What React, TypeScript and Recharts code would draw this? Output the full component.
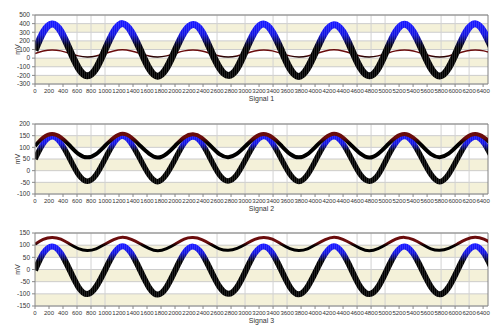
import React from "react";
import {
  LineChart,
  Line,
  XAxis,
  YAxis,
  CartesianGrid,
  ReferenceLine,
} from "recharts";

// sample positions (roughly every 1/8 of a cycle)
const X_VALUES = [
  0, 117, 243, 369, 495, 620, 746, 872, 998, 1124, 1250, 1376, 1502, 1628,
  1753, 1879, 2005, 2131, 2257, 2383, 2509, 2635, 2760, 2886, 3012, 3138, 3264,
  3390, 3516, 3641, 3767, 3893, 4019, 4145, 4271, 4397, 4523, 4648, 4774, 4900,
  5026, 5152, 5278, 5404, 5530, 5655, 5781, 5907, 6033, 6159, 6285, 6411, 6537,
];

const SIG1_MAIN = [
  90, 300, 395, 310, 95, -115, -205, -120, 92, 305, 400, 305, 98, -118, -210,
  -115, 95, 302, 390, 308, 93, -112, -200, -118, 96, 306, 395, 303, 95, -120,
  -212, -116, 94, 300, 388, 306, 97, -114, -205, -119, 95, 304, 392, 302, 94,
  -117, -208, -115, 96, 307, 398, 305, 95,
];
const SIG1_REF = [
  54, 82, 95, 84, 55, 26, 14, 24, 53, 83, 96, 82, 54, 25, 13, 26, 55, 84, 94,
  83, 53, 24, 12, 25, 54, 82, 95, 84, 55, 26, 14, 24, 53, 83, 96, 82, 54, 25,
  13, 26, 55, 84, 94, 83, 53, 24, 12, 25, 54, 82, 95, 84, 55,
];
const SIG2_MAIN = [
  50, 116, 145, 118, 52, -16, -45, -18, 49, 117, 147, 116, 50, -17, -47, -15,
  51, 118, 144, 117, 49, -18, -44, -16, 50, 116, 146, 118, 51, -15, -46, -17,
  50, 117, 145, 116, 49, -17, -45, -18, 52, 118, 146, 117, 50, -16, -47, -16,
  51, 116, 144, 118, 50,
];
const SIG2_UPPER = [
  106, 142, 157, 143, 108, 72, 57, 71, 106, 141, 158, 142, 107, 73, 56, 72,
  108, 143, 156, 141, 106, 71, 58, 73, 107, 142, 157, 143, 108, 72, 57, 71,
  106, 141, 158, 142, 107, 73, 56, 72, 108, 143, 157, 141, 106, 71, 58, 73,
  107, 142, 157, 143, 108,
];
const SIG3_MAIN = [
  -3, 66, 95, 67, -2, -72, -101, -71, -4, 65, 96, 66, -3, -73, -103, -72, -2,
  67, 94, 65, -3, -71, -100, -73, -4, 66, 95, 67, -2, -72, -102, -71, -3, 65,
  96, 66, -3, -73, -101, -72, -2, 67, 95, 65, -3, -71, -102, -73, -4, 66, 96,
  67, -2,
];
const SIG3_UPPER = [
  104, 124, 132, 125, 105, 86, 78, 85, 104, 123, 133, 124, 106, 87, 77, 86,
  105, 125, 131, 123, 104, 85, 79, 87, 105, 124, 132, 125, 105, 86, 78, 85,
  104, 123, 133, 124, 106, 87, 77, 86, 105, 125, 132, 123, 104, 85, 79, 87,
  105, 124, 133, 125, 105,
];

const X_TICKS = [
  0, 200, 400, 600, 800, 1000, 1200, 1400, 1600, 1800, 2000, 2200, 2400, 2600,
  2800, 3000, 3200, 3400, 3600, 3800, 4000, 4200, 4400, 4600, 4800, 5000, 5200,
  5400, 5600, 5800, 6000, 6200, 6400,
];
const GRID_X = [600, 800, 1000, 2600, 3000, 3400, 3600, 4600, 4800, 5000, 5800, 6000, 6200];
const Y1_TICKS = [-300, -200, -100, 0, 100, 200, 300, 400, 500];
const Y2_TICKS = [-100, -50, 0, 50, 100, 150, 200];
const Y3_TICKS = [-150, -100, -50, 0, 50, 100, 150];
const X_END = 6470;

const data = X_VALUES.map((x, i) => ({
  x,
  s1a: SIG1_MAIN[i],
  s1b: SIG1_REF[i],
  s2a: SIG2_MAIN[i],
  s2b: SIG2_UPPER[i],
  s3a: SIG3_MAIN[i],
  s3b: SIG3_UPPER[i],
}));

const FONT = "'Liberation Sans', Arial, sans-serif";
const TEXT = "#333";
const BLUE = "#1616ff";
const RED = "#6a0c0c";

type Stop = [number, string];
type Series = { key: string; values: number[]; width: number; stops: Stop[]; hatch?: boolean };

function Gradient({ id, values, stops }: { id: string; values: number[]; stops: Stop[] }) {
  const max = Math.max(...values);
  const min = Math.min(...values);
  return (
    <linearGradient id={id} x1="0" y1="0" x2="0" y2="1">
      {stops.map(([v, c], i) => (
        <stop
          key={i}
          offset={Math.min(1, Math.max(0, (max - v) / (max - min)))}
          stopColor={c}
        />
      ))}
    </linearGradient>
  );
}

const MvLabel = (props: any) => {
  const vb = props.viewBox || {};
  const cx = 17;
  const cy = vb.y + vb.height / 2;
  return (
    <text
      x={cx}
      y={cy}
      transform={`rotate(-90 ${cx} ${cy})`}
      textAnchor="middle"
      dominantBaseline="central"
      fontSize={7}
      fontFamily={FONT}
      fill={TEXT}
    >
      mV
    </text>
  );
};

const TitleLabel = (props: any) => {
  const vb = props.viewBox || {};
  return (
    <text
      x={vb.x + vb.width / 2}
      y={vb.y + 14}
      textAnchor="middle"
      dominantBaseline="central"
      fontSize={7}
      fontFamily={FONT}
      fill={TEXT}
    >
      {props.title}
    </text>
  );
};

function Panel({
  id,
  title,
  top,
  height,
  marginTop,
  yTicks,
  series,
}: {
  id: string;
  title: string;
  top: number;
  height: number;
  marginTop: number;
  yTicks: number[];
  series: Series[];
}) {
  const yMin = yTicks[0];
  const yMax = yTicks[yTicks.length - 1];
  return (
    <div style={{ position: "absolute", left: 0, top }}>
      <LineChart
        width={500}
        height={height}
        data={data}
        margin={{ top: marginTop, right: 12, bottom: 0, left: 0 }}
      >
        <defs>
          {series.map((s) => (
            <Gradient key={s.key} id={`${id}-${s.key}`} values={s.values} stops={s.stops} />
          ))}
          <pattern id={`${id}-hatch`} width="2" height="3" patternUnits="userSpaceOnUse">
            <rect x="0" y="0" width="0.8" height="3" fill="#ffffff" fillOpacity={0.16} />
          </pattern>
        </defs>
        <CartesianGrid
          vertical={false}
          stroke="#cccccc"
          horizontalFill={["#ffffff", "#f4f1d9"]}
          fillOpacity={1}
        />
        {GRID_X.map((gx) => (
          <ReferenceLine key={gx} x={gx} stroke="#d2d2d2" strokeWidth={1} />
        ))}
        <XAxis
          dataKey="x"
          type="number"
          domain={[0, X_END]}
          allowDataOverflow
          ticks={X_TICKS}
          interval={0}
          tickSize={3}
          height={26}
          stroke="#888"
          tick={{ fontSize: 6, fill: TEXT, fontFamily: FONT }}
          label={<TitleLabel title={title} />}
        />
        <YAxis
          type="number"
          domain={[yMin, yMax]}
          ticks={yTicks}
          interval={0}
          width={35}
          tickSize={3}
          stroke="#888"
          tick={{ fontSize: 6.5, fill: TEXT, fontFamily: FONT }}
          label={<MvLabel />}
        />
        <ReferenceLine y={yMax} stroke="#808080" />
        <ReferenceLine x={X_END} stroke="#808080" />
        {series.flatMap((s) => {
          const out = [
            <Line
              key={s.key}
              dataKey={s.key}
              type="natural"
              dot={false}
              activeDot={false}
              stroke={`url(#${id}-${s.key})`}
              strokeWidth={s.width}
              strokeLinejoin="round"
              isAnimationActive={false}
            />,
          ];
          if (s.hatch) {
            out.push(
              <Line
                key={`${s.key}-h`}
                dataKey={s.key}
                type="natural"
                dot={false}
                activeDot={false}
                legendType="none"
                stroke={`url(#${id}-hatch)`}
                strokeWidth={s.width}
                isAnimationActive={false}
              />
            );
          }
          return out;
        })}
      </LineChart>
    </div>
  );
}

export default function App() {
  return (
    <div
      style={{
        position: "absolute",
        left: 0,
        top: 0,
        width: 500,
        height: 332,
        background: "#fff",
        overflow: "hidden",
      }}
    >
      <Panel
        id="p1"
        title="Signal 1"
        top={0}
        height={110}
        marginTop={15}
        yTicks={Y1_TICKS}
        series={[
          {
            key: "s1b",
            values: SIG1_REF,
            width: 1.5,
            stops: [
              [100, RED],
              [40, RED],
              [15, "#200000"],
            ],
          },
          {
            key: "s1a",
            values: SIG1_MAIN,
            width: 7,
            hatch: true,
            stops: [
              [400, BLUE],
              [270, "#1414e0"],
              [160, "#000020"],
              [110, "#000000"],
            ],
          },
        ]}
      />
      <Panel
        id="p2"
        title="Signal 2"
        top={110}
        height={110}
        marginTop={14}
        yTicks={Y2_TICKS}
        series={[
          {
            key: "s2a",
            values: SIG2_MAIN,
            width: 5.5,
            hatch: true,
            stops: [
              [150, BLUE],
              [115, "#1414e0"],
              [85, "#000000"],
            ],
          },
          {
            key: "s2b",
            values: SIG2_UPPER,
            width: 4,
            stops: [
              [160, RED],
              [140, RED],
              [118, "#000000"],
            ],
          },
        ]}
      />
      <Panel
        id="p3"
        title="Signal 3"
        top={220}
        height={112}
        marginTop={13}
        yTicks={Y3_TICKS}
        series={[
          {
            key: "s3a",
            values: SIG3_MAIN,
            width: 6,
            hatch: true,
            stops: [
              [100, BLUE],
              [68, "#1414e0"],
              [32, "#000000"],
            ],
          },
          {
            key: "s3b",
            values: SIG3_UPPER,
            width: 3,
            stops: [
              [135, RED],
              [112, RED],
              [97, "#000000"],
            ],
          },
        ]}
      />
    </div>
  );
}
